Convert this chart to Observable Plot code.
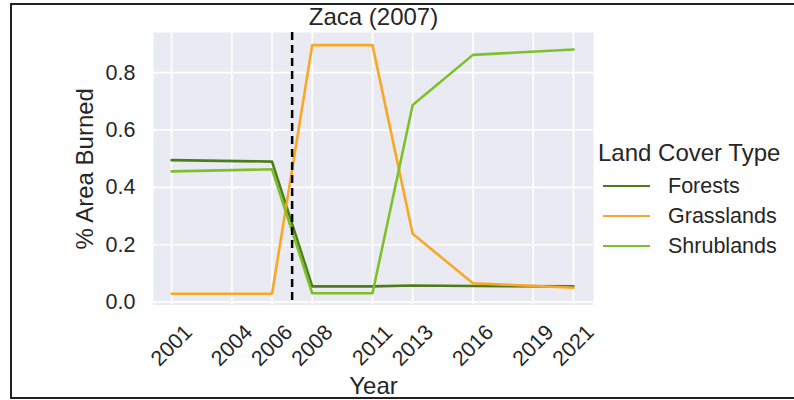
<!DOCTYPE html>
<html>
<head>
<meta charset="utf-8">
<script src="https://cdn.jsdelivr.net/npm/d3@7"></script>
<script src="https://cdn.jsdelivr.net/npm/@observablehq/plot@0.6"></script>
<style>
  html, body { margin: 0; padding: 0; background: #fff; }
  body { width: 794px; height: 400px; overflow: hidden; position: relative; }
  #border { position: absolute; left: 10px; top: 3px; width: 800px; height: 392px; border: 2px solid #222; box-sizing: content-box; pointer-events: none; }
  #chart { position: absolute; left: 0; top: 0; }
  #legend { position: absolute; left: 598px; top: 137px; font-family: "Liberation Sans", Arial, sans-serif; color: #262626; }
  #legend .title { font-size: 24px; line-height: 32px; white-space: nowrap; }
  #legend .row { display: flex; align-items: center; height: 30px; }
  #legend .sw { width: 47px; height: 2.6px; margin-left: 5px; margin-right: 18px; }
  #legend .lab { font-size: 21.5px; white-space: nowrap; }
</style>
</head>
<body>
<div id="chart"></div>
<div id="legend"></div>
<div id="border"></div>
<script>
const years = [2001, 2006, 2008, 2011, 2013, 2016, 2021];
const forests = [0.495, 0.490, 0.055, 0.055, 0.058, 0.056, 0.055];
const grasslands = [0.029, 0.029, 0.896, 0.896, 0.238, 0.066, 0.050];
const shrublands = [0.456, 0.463, 0.031, 0.031, 0.687, 0.862, 0.881];
const types = ["Forests", "Grasslands", "Shrublands"];
const colors = ["#4d7c1b", "#f9a825", "#7cc12a"];
const xTicks = [2001, 2004, 2006, 2008, 2011, 2013, 2016, 2019, 2021];
const yTicks = [0, 0.2, 0.4, 0.6, 0.8];
const fireYear = 2007;
const title = "Zaca (2007)";
const xLabel = "Year";
const yLabel = "% Area Burned";
const legendTitle = "Land Cover Type";

const series = [forests, grasslands, shrublands];
const rows = [];
types.forEach((t, i) => years.forEach((yr, j) => rows.push({type: t, year: yr, value: series[i][j]})));

const font = "'Liberation Sans', Arial, sans-serif";
const chart = Plot.plot({
  width: 794,
  height: 400,
  marginLeft: 153,
  marginRight: 201,
  marginTop: 32,
  marginBottom: 95.5,
  x: {domain: [2000.1, 2022]},
  y: {domain: [-0.01, 0.94]},
  color: {domain: types, range: colors},
  style: {fontFamily: font, fontSize: "21.5px", color: "#262626", background: "transparent", overflow: "visible"},
  marks: [
    Plot.frame({fill: "#eaeaf2", stroke: null}),
    Plot.gridX(xTicks, {stroke: "white", strokeOpacity: 1, strokeWidth: 1.6}),
    Plot.gridY(yTicks, {stroke: "white", strokeOpacity: 1, strokeWidth: 1.6}),
    Plot.line(rows, {x: "year", y: "value", z: "type", stroke: "type", strokeWidth: 2.6}),
    Plot.ruleX([fireYear], {stroke: "black", strokeWidth: 2.5, strokeDasharray: "8,5"}),
    Plot.axisY(yTicks, {tickSize: 0, tickPadding: 18, tickFormat: d3.format(".1f"), fontSize: 21.5, label: null}),
    Plot.axisX(xTicks, {tickSize: 0, tickPadding: 0, tickRotate: -45, textAnchor: "middle", lineAnchor: "middle", dy: 40.5, tickFormat: d => String(d), fontSize: 21.5, label: null}),
    Plot.text([xLabel], {frameAnchor: "bottom", dy: 81, fontSize: 24, textAnchor: "middle", lineAnchor: "middle"}),
    Plot.text([yLabel], {frameAnchor: "left", dx: -68, rotate: -90, fontSize: 24, textAnchor: "middle", lineAnchor: "middle"}),
    Plot.text([title], {frameAnchor: "top", dy: -15, fontSize: 24, textAnchor: "middle", lineAnchor: "middle"})
  ]
});
document.getElementById("chart").appendChild(chart);

const legend = document.getElementById("legend");
const t = document.createElement("div");
t.className = "title";
t.textContent = legendTitle;
legend.appendChild(t);
const pad = document.createElement("div");
pad.style.height = "2px";
legend.appendChild(pad);
types.forEach((ty, i) => {
  const r = document.createElement("div");
  r.className = "row";
  const s = document.createElement("div");
  s.className = "sw";
  s.style.background = colors[i];
  const l = document.createElement("div");
  l.className = "lab";
  l.textContent = ty;
  r.appendChild(s);
  r.appendChild(l);
  legend.appendChild(r);
});
</script>
</body>
</html>
